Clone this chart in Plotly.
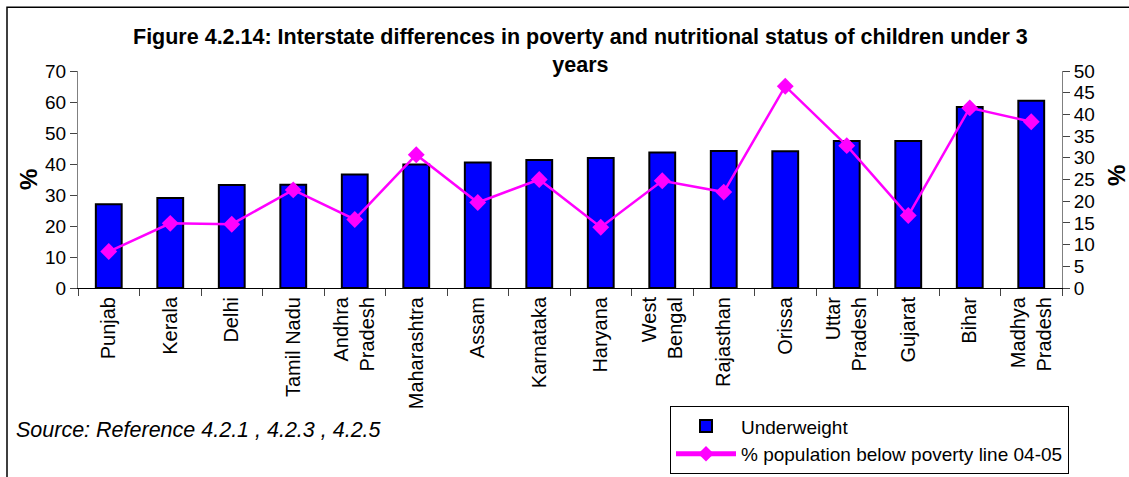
import plotly.graph_objects as go

states = ["Punjab", "Kerala", "Delhi", "Tamil Nadu", "Andhra<br>Pradesh", "Maharashtra",
          "Assam", "Karnataka", "Haryana", "West<br>Bengal", "Rajasthan", "Orissa",
          "Uttar<br>Pradesh", "Gujarat", "Bihar", "Madhya<br>Pradesh"]
underweight = [27.0, 29.0, 33.2, 33.3, 36.6, 39.8, 40.5, 41.3, 41.9, 43.7, 44.2, 44.1,
               47.4, 47.4, 58.4, 60.4]
poverty = [8.4, 14.9, 14.7, 22.6, 15.8, 30.7, 19.7, 25.0, 14.0, 24.7, 22.1, 46.5,
           32.8, 16.7, 41.5, 38.3]

font = "Liberation Sans, Arial, sans-serif"

fig = go.Figure()
fig.add_trace(go.Bar(x=states, y=underweight, name="Underweight",
                     marker=dict(color="#0000FF", line=dict(color="black", width=2))))
fig.add_trace(go.Scatter(x=states, y=poverty, name="% population below poverty line 04-05",
                         yaxis="y2", mode="lines+markers",
                         line=dict(color="#FF00FF", width=2.5),
                         marker=dict(symbol="diamond", size=13, color="#FF00FF")))

# plot area is 78..1062 px wide, 71..288 px tall
W, H = 984, 217.5
def px(x):
    return (x - 78) / W
def py(y):
    return (288.3 - y) / H

fig.update_layout(
    width=1129, height=477,
    margin=dict(l=78, r=67, t=71, b=189, autoexpand=False),
    paper_bgcolor="white", plot_bgcolor="white",
    font=dict(family=font, size=19, color="black"),
    bargap=0.58,
    showlegend=True,
    legend=dict(x=px(670), y=py(475), xanchor="left", yanchor="bottom",
                bordercolor="black", borderwidth=1, bgcolor="white",
                font=dict(size=19), tracegroupgap=0, itemwidth=60,
                itemsizing="constant"),
    xaxis=dict(showline=True, linecolor="black", ticks="outside", ticklen=7,
               tickson="boundaries", tickangle=-90, tickfont=dict(size=20),
               showgrid=False, range=[-0.5, 15.5]),
    yaxis=dict(range=[0, 70], dtick=10, showline=True, linecolor="#808080",
               ticks="outside", ticklen=7, showgrid=False, zeroline=False,
               tickfont=dict(size=19)),
    yaxis2=dict(range=[0, 50], dtick=5, overlaying="y", side="right", showline=True,
                linecolor="#808080", ticks="outside", ticklen=7, showgrid=False,
                zeroline=False, tickfont=dict(size=19)),
)

fig.add_annotation(text="<b>Figure 4.2.14: Interstate differences in poverty and nutritional status of children under 3<br>years</b>",
                   xref="paper", yref="paper", x=px(580), y=py(51), yanchor="middle",
                   showarrow=False, font=dict(size=21.5), align="center")
fig.add_annotation(text="<b>%</b>", xref="paper", yref="paper", x=px(29), y=py(180),
                   xanchor="center", yanchor="middle", showarrow=False, textangle=-90,
                   font=dict(size=24))
fig.add_annotation(text="<b>%</b>", xref="paper", yref="paper", x=px(1117), y=py(176),
                   xanchor="center", yanchor="middle", showarrow=False, textangle=-90,
                   font=dict(size=24))
fig.add_annotation(text="<i>Source: Reference 4.2.1 , 4.2.3 , 4.2.5</i>", xref="paper",
                   yref="paper", x=px(14), y=py(431), xanchor="left", yanchor="middle",
                   showarrow=False, font=dict(size=21.5))
fig.add_shape(type="rect", xref="paper", yref="paper", x0=px(7), x1=px(1140),
              y0=py(490), y1=py(7), line=dict(color="black", width=1.5))

# drop the browser's default 8px body margin so the figure sits at the page corner
fig.write_html("out.html", config={"displayModeBar": False},
               post_script="document.body.style.margin='0';")
